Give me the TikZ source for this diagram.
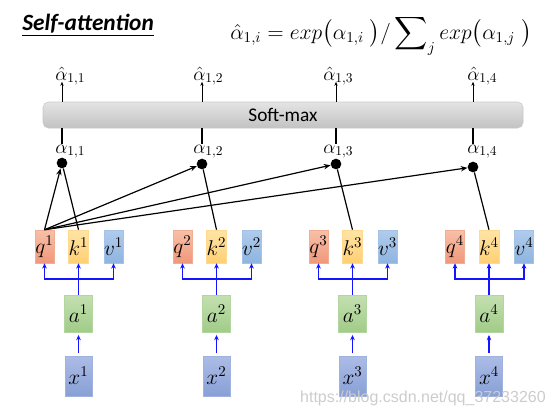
\RequirePackage{fix-cm}
\documentclass[tikz,border=0pt]{standalone}
\usepackage{fontspec}
\usepackage{amsmath}
\newfontfamily\carlito{Carlito}
\newfontfamily\wmfont{Liberation Sans}
\usetikzlibrary{arrows.meta, positioning, calc}
\definecolor{attblue}{RGB}{20, 20, 255}
\definecolor{qtop}{RGB}{248, 192, 168}
\definecolor{qbot}{RGB}{240, 152, 122}
\definecolor{ktop}{RGB}{255, 228, 165}
\definecolor{kbot}{RGB}{255, 208, 115}
\definecolor{vtop}{RGB}{176, 204, 236}
\definecolor{vbot}{RGB}{142, 180, 224}
\definecolor{atop}{RGB}{196, 224, 176}
\definecolor{abot}{RGB}{160, 204, 136}
\definecolor{xtop}{RGB}{172, 188, 230}
\definecolor{xbot}{RGB}{136, 160, 214}
\definecolor{bartop}{RGB}{228, 228, 228}
\definecolor{barbot}{RGB}{194, 194, 194}

\begin{document}
\begin{tikzpicture}[
    x=0.75pt, y=-0.75pt,
    arrow/.style={-{Stealth[length=5pt, width=4pt]}, line width=0.9pt},
    line/.style={line width=0.9pt},
    bluearrow/.style={-{Stealth[length=4pt, width=3.5pt]}, line width=1.3pt, draw=attblue},
    blueline/.style={line width=1.3pt, draw=attblue},
    vecbox/.style={rectangle, inner sep=0pt, minimum width=14.25pt, minimum height=24.75pt,
        font=\fontsize{16}{19}\selectfont},
    qbox/.style={vecbox, draw=qbot!80!white, top color=qtop, bottom color=qbot},
    kbox/.style={vecbox, draw=kbot!80!white, top color=ktop, bottom color=kbot},
    vbox/.style={vecbox, draw=vbot!80!white, top color=vtop, bottom color=vbot},
    abox/.style={rectangle, inner sep=0pt, minimum width=21pt, minimum height=27.75pt,
        draw=abot!80!white, top color=atop, bottom color=abot, font=\fontsize{16}{19}\selectfont},
    xbox/.style={rectangle, inner sep=0pt, minimum width=20.25pt, minimum height=30pt,
        draw=xbot!80!white, top color=xtop, bottom color=xbot, font=\fontsize{16}{19}\selectfont},
    softbar/.style={rectangle, rounded corners=4pt, draw=barbot!90!white, top color=bartop,
        bottom color=barbot, minimum width=360pt, minimum height=19.5pt,
        font=\carlito\fontsize{14.5}{17}\selectfont},
    dot/.style={circle, fill=black, inner sep=0pt, minimum size=8pt},
    alabel/.style={inner sep=0pt, anchor=base west, font=\fontsize{14.5}{17}\selectfont},
    wmark/.style={inner sep=0pt, text=gray!40, font=\wmfont\fontsize{12}{14}\selectfont}
]
\useasboundingbox (0,0) rectangle (554,415);

% === Layout constants ===
\def\vecy{246.5}
\def\juncy{279}
\def\ay{313.5}
\def\xy{376}

% === Title and formula ===
\node[anchor=base west, inner sep=0pt, font=\carlito\bfseries\itshape\fontsize{17.5}{21}\selectfont]
    (title) at (22,30) {\underline{Self-attention}};
\node[anchor=base west, inner sep=0pt, font=\fontsize{16.2}{19}\selectfont] (formula) at (230,39)
    {$\hat{\alpha}_{1,i} = exp\big(\alpha_{1,i}\;\big)/\displaystyle\sum\nolimits_{j} exp\big(\alpha_{1,j}\;\big)$};

% === Soft-max bar ===
\node[softbar] (bar) at (283,115) {Soft-max};

% === Columns: scores, dots, q/k/v, a, x ===
\foreach \i/\cx/\lx/\kx/\dy in {1/62/55/78.5/163, 2/202/193/216.5/164, 3/336/323/352.5/164, 4/473/467/489/167} {
    \coordinate (c\i) at (\cx,0);
    \node[alabel] (hat\i) at (\lx,80) {$\hat{\alpha}_{1,\i}$};
    \node[alabel] (al\i) at (\lx,153) {$\alpha_{1,\i}$};
    \node[dot] (d\i) at (\cx,\dy) {};
    % q, k, v
    \node[qbox] (q\i) at ({\kx-34},\vecy) {$q^{\i}$};
    \node[kbox] (k\i) at (\kx,\vecy) {$k^{\i}$};
    \node[vbox] (v\i) at ({\kx+35},\vecy) {$v^{\i}$};
    % a and x
    \node[abox] (a\i) at (\kx,\ay) {$a^{\i}$};
    \node[xbox] (x\i) at (\kx,\xy) {$x^{\i}$};
    \coordinate (j\i) at (\kx,\juncy);
}

% === Arrows: bar <-> scores ===
\foreach \i in {1,...,4} {
    \draw[-{Stealth[length=3pt, width=2.5pt]}, line width=0.6pt]
        (bar.north -| c\i) -- ([yshift=3pt]hat\i.south -| c\i);
    \draw[line width=0.8pt] (bar.south -| c\i) -- (al\i.north -| c\i);
}

% === Black lines: q1 to every dot, k_i to its own dot ===
\foreach \i in {1,...,4} {
    \draw[arrow] (q1.north) -- (d\i);
    \draw[line] (k\i.north) -- (d\i);
}

% === Blue lines: x -> a -> q, k, v ===
\foreach \i in {1,...,4} {
    \draw[bluearrow, shorten <=2pt, shorten >=2pt] (x\i.north) -- (a\i.south);
    \draw[blueline] (a\i.north) -- (j\i);
    \draw[bluearrow] (j\i) -| (q\i.south);
    \draw[bluearrow] (j\i) -- (k\i.south);
    \draw[bluearrow] (j\i) -| (v\i.south);
}

% === Watermark ===
\node[wmark, anchor=base east] (wm) at (546,402) {https://blog.csdn.net/qq\_37233260};

\end{tikzpicture}
\end{document}
